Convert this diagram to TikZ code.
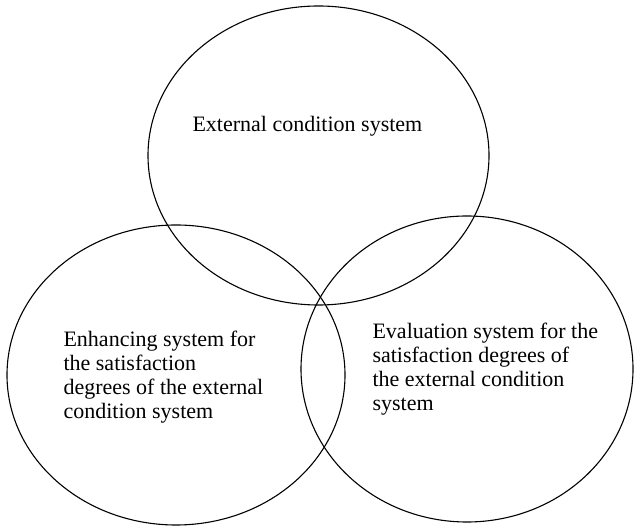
\documentclass[tikz,border=0pt]{standalone}
\usepackage{fontspec}
\setmainfont{Liberation Serif}
\usetikzlibrary{shapes.geometric}

\begin{document}
\begin{tikzpicture}[x=1pt,y=1pt,line width=1.1pt,main node/.style={ellipse,draw,inner sep=0pt},text node/.style={inner sep=0pt,anchor=north west,align=left,font=\fontsize{22}{24}\selectfont}]
                    \useasboundingbox (0,0) rectangle (635,527);

                    \node[main node, minimum width=341, minimum height=299] (1) at (318.5,371.5) {};
                    \node[main node, minimum width=338, minimum height=300] (2) at (176,152) {};
                    \node[main node, minimum width=332, minimum height=306] (3) at (467,158) {};

                    \node[text node] (4) at (192,411) {External condition system};
                    \node[text node] (5) at (63,197) {Enhancing system for\\the satisfaction\\degrees of the external\\condition system};
                    \node[text node] (6) at (372,205) {Evaluation system for the\\satisfaction degrees of\\the external condition\\system};
                \end{tikzpicture}
\end{document}
